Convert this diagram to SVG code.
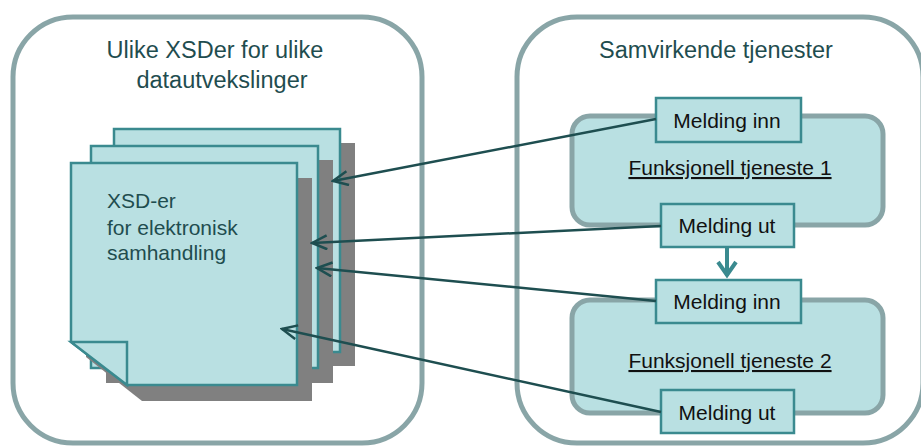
<svg xmlns="http://www.w3.org/2000/svg" width="921" height="446" viewBox="0 0 921 446">
  <style>
    text { font-family: "Liberation Sans", Arial, sans-serif; }
    .panel { fill: #ffffff; stroke: #89a5a7; stroke-width: 5; }
    .title { font-size: 23.5px; fill: #1f4d4f; text-anchor: middle; }
    .sheet { fill: #b9e0e2; stroke: #3a8a8f; stroke-width: 2.5; }
    .shadow { fill: #808080; }
    .sheettext { font-size: 21px; fill: #1f4d4f; }
    .service { fill: #b9e0e2; stroke: #89a5a7; stroke-width: 5; }
    .msg { fill: #b9e0e2; stroke: #3a8a8f; stroke-width: 2.5; }
    .msgtext { font-size: 21px; fill: #111111; text-anchor: middle; }
    .svctext { font-size: 21px; fill: #111111; text-anchor: middle; text-decoration: underline; }
    .link { fill: none; stroke: #1e4e50; stroke-width: 2.5; marker-end: url(#openArrow); }
  </style>
  <defs>
    <marker id="openArrow" markerUnits="userSpaceOnUse" viewBox="0 0 18 16" refX="16" refY="8" markerWidth="18" markerHeight="16" orient="auto">
      <path d="M1,1 L16,8 L1,15" fill="none" stroke="#1e4e50" stroke-width="2.5"/>
    </marker>
  </defs>

  <!-- Left panel: schema collection -->
  <g id="panel-xsd">
    <rect class="panel" x="13" y="17" width="409" height="426" rx="60" ry="60"/>
    <text class="title" x="215" y="58">Ulike XSDer for ulike</text>
    <text class="title" x="222" y="88">datautvekslinger</text>
  </g>

  <!-- Stack of schema sheets -->
  <g id="xsd-stack">
    <rect class="shadow" x="129" y="143" width="226" height="223"/>
    <rect class="sheet" x="114" y="129" width="226" height="223"/>
    <rect class="shadow" x="106" y="160" width="227" height="223"/>
    <rect class="sheet" x="91" y="146" width="227" height="222"/>
    <path class="shadow" d="M86,178 H312 V401 H142 L86,357 Z"/>
    <path class="sheet" d="M71,163 H297 V385 H127 L71,342 Z"/>
    <path class="sheet" d="M71,342 H127 V385 Z"/>
    <text class="sheettext" x="107" y="208">XSD-er</text>
    <text class="sheettext" x="107" y="235">for elektronisk</text>
    <text class="sheettext" x="107" y="260">samhandling</text>
  </g>

  <!-- Right panel: cooperating services -->
  <g id="panel-services">
    <rect class="panel" x="517" y="17" width="406" height="426" rx="60" ry="60"/>
    <text class="title" x="716" y="58">Samvirkende tjenester</text>
  </g>

  <g id="service-1">
    <rect class="service" x="572" y="116" width="311" height="109" rx="18" ry="18"/>
    <text class="svctext" x="730" y="175">Funksjonell tjeneste 1</text>
  </g>
  <g id="service-2">
    <rect class="service" x="572" y="300" width="311" height="113" rx="18" ry="18"/>
    <text class="svctext" x="730" y="368">Funksjonell tjeneste 2</text>
  </g>

  <g id="msg-in-1">
    <rect class="msg" x="656" y="98" width="145" height="44"/>
    <text class="msgtext" x="727" y="128">Melding inn</text>
  </g>
  <g id="msg-out-1">
    <rect class="msg" x="661" y="204" width="133" height="43"/>
    <text class="msgtext" x="727" y="233">Melding ut</text>
  </g>
  <g id="msg-in-2">
    <rect class="msg" x="656" y="280" width="145" height="43"/>
    <text class="msgtext" x="727" y="309">Melding inn</text>
  </g>
  <g id="msg-out-2">
    <rect class="msg" x="661" y="390" width="133" height="43"/>
    <text class="msgtext" x="727" y="420">Melding ut</text>
  </g>

  <!-- Connectors -->
  <g id="connectors">
    <line class="link" x1="656" y1="119" x2="333" y2="181"/>
    <line class="link" x1="661" y1="226" x2="312" y2="243"/>
    <line class="link" x1="656" y1="301" x2="317" y2="268"/>
    <line class="link" x1="661" y1="412" x2="282" y2="329"/>
    <!-- hand-over from service 1 output to service 2 input -->
    <line x1="727" y1="247" x2="727" y2="276" stroke="#3a8a8f" stroke-width="4"/>
    <path d="M718,262 L727,275 L736,262" fill="none" stroke="#3a8a8f" stroke-width="4"/>
  </g>
</svg>
